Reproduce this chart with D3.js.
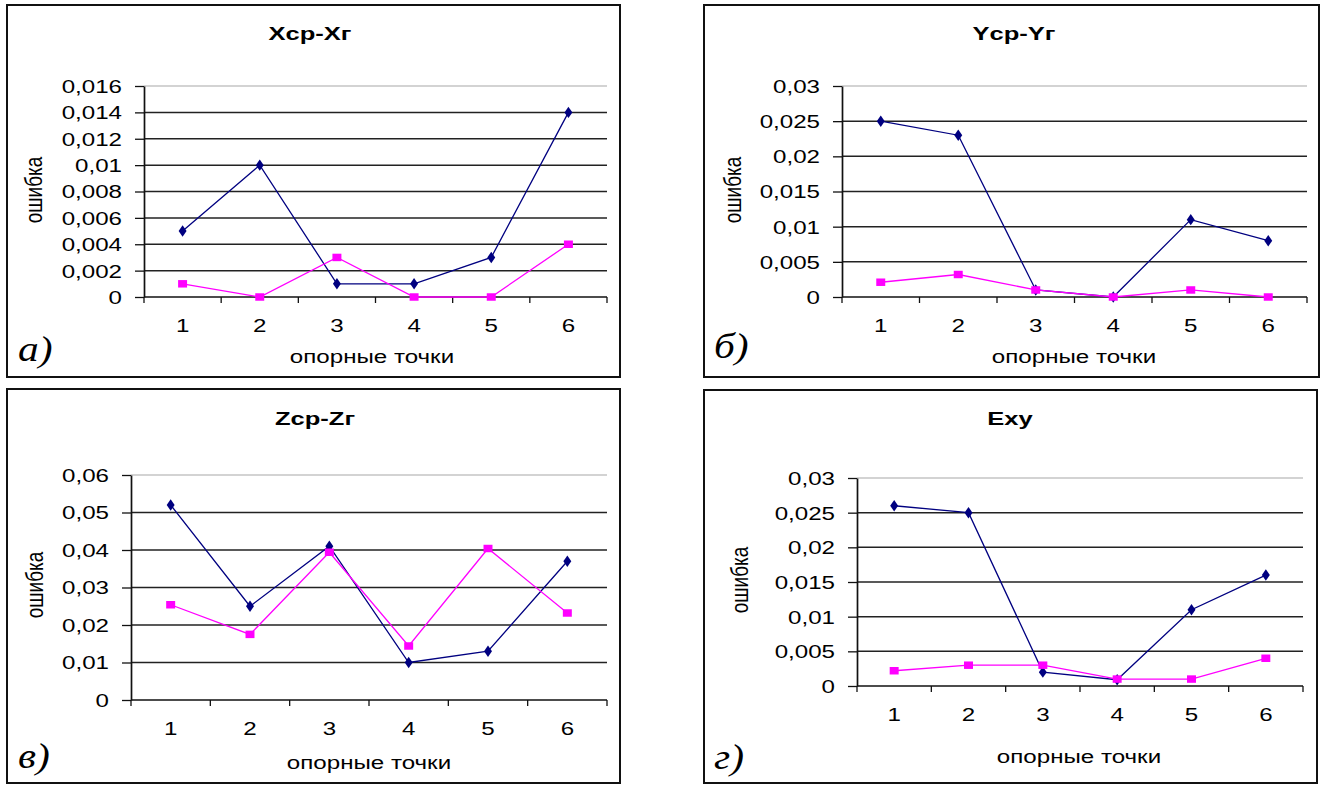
<!DOCTYPE html>
<html>
<head>
<meta charset="utf-8">
<script src="https://cdn.jsdelivr.net/npm/d3@7"></script>
<style>
  body { margin: 0; background: #fff; }
  svg text { font-family: "Liberation Sans", Arial, sans-serif; fill: #000; }
</style>
</head>
<body>
<svg id="chart" width="1322" height="785"></svg>
<script>
// Reference points (categories) shared by all four panels
const points = ["1", "2", "3", "4", "5", "6"];

// Panel captions
const titles = ["Xср-Xг", "Yср-Yг", "Zср-Zг", "Exy"];
const letters = ["а)", "б)", "в)", "г)"];
const xAxisTitle = "опорные точки";
const yAxisTitle = "ошибка";

// Errors per reference point: navy series and magenta series
const xNavy    = [0.005, 0.010, 0.001, 0.001, 0.003, 0.014];
const xMagenta = [0.001, 0.000, 0.003, 0.000, 0.000, 0.004];

const yNavy    = [0.025, 0.023, 0.001, 0.000, 0.011, 0.008];
const yMagenta = [0.0021, 0.0032, 0.001, 0.000, 0.001, 0.000];

const zNavy    = [0.052, 0.025, 0.041, 0.010, 0.013, 0.037];
const zMagenta = [0.0254, 0.0175, 0.0394, 0.0144, 0.0404, 0.0232];

const eNavy    = [0.026, 0.025, 0.002, 0.0009, 0.011, 0.016];
const eMagenta = [0.0022, 0.003, 0.003, 0.001, 0.001, 0.004];

// Value-axis ticks of each panel
const xTicks = [0, 0.002, 0.004, 0.006, 0.008, 0.010, 0.012, 0.014, 0.016];
const yTicks = [0, 0.005, 0.010, 0.015, 0.020, 0.025, 0.030];
const zTicks = [0, 0.01, 0.02, 0.03, 0.04, 0.05, 0.06];
const eTicks = [0, 0.005, 0.010, 0.015, 0.020, 0.025, 0.030];

const navyColor = "#000080";
const magentaColor = "#ff00ff";
const SX = 1.27;      // horizontal widening of the lettering
const TITLE_SX = 1.38;

const svg = d3.select("#chart");

// Placement of each panel on the page
const panels = [
  { series: [xNavy, xMagenta], ticks: xTicks,
    frame: { x0: 7, y0: 5, x1: 620, y1: 377 },
    plot: { left: 144, right: 607, top: 86, bottom: 297 },
    title: [310, 33], ylab: [35, 190], letter: [18, 350], xtitle: [372, 357] },
  { series: [yNavy, yMagenta], ticks: yTicks,
    frame: { x0: 704, y0: 5, x1: 1319, y1: 377 },
    plot: { left: 842, right: 1307, top: 86, bottom: 297 },
    title: [1014, 33], ylab: [734, 190], letter: [714, 347], xtitle: [1074, 357] },
  { series: [zNavy, zMagenta], ticks: zTicks,
    frame: { x0: 7, y0: 389, x1: 620, y1: 783 },
    plot: { left: 131, right: 607, top: 475, bottom: 700 },
    title: [315, 418], ylab: [36, 585], letter: [18, 757], xtitle: [369, 763] },
  { series: [eNavy, eMagenta], ticks: eTicks,
    frame: { x0: 704, y0: 390, x1: 1317, y1: 783 },
    plot: { left: 857, right: 1303, top: 478, bottom: 686 },
    title: [1010, 418], ylab: [741, 580], letter: [714, 758], xtitle: [1079, 757] }
];

const fmt = v => d3.format(".3~f")(v).replace(".", ",");

panels.forEach((p, i) => {
  const g = svg.append("g");
  const f = p.frame, pl = p.plot;

  // panel frame
  g.append("rect")
    .attr("x", f.x0).attr("y", f.y0)
    .attr("width", f.x1 - f.x0).attr("height", f.y1 - f.y0)
    .attr("fill", "none").attr("stroke", "#111").attr("stroke-width", 2);

  const x = d3.scaleBand().domain(points).range([pl.left, pl.right]).padding(0);
  const edge = d3.scaleLinear().domain([0, points.length]).range([pl.left, pl.right]);
  const y = d3.scaleLinear().domain([0, d3.max(p.ticks)]).range([pl.bottom, pl.top]);

  // horizontal gridlines
  g.append("g").selectAll("line").data(p.ticks.slice(1)).join("line")
    .attr("x1", pl.left).attr("x2", pl.right)
    .attr("y1", d => y(d)).attr("y2", d => y(d))
    .attr("stroke", (d, k) => k === p.ticks.length - 2 ? "#c4c4c4" : "#222")
    .attr("stroke-width", 1.5);

  // value axis
  const ya = g.append("g").attr("transform", `translate(${pl.left},0)`)
    .call(d3.axisLeft(y).tickValues(p.ticks).tickFormat(fmt).tickSize(9).tickSizeOuter(0));
  ya.select(".domain").attr("stroke", "#111").attr("stroke-width", 1.7);
  ya.selectAll(".tick line").attr("stroke", "#111").attr("stroke-width", 1.3);
  ya.selectAll(".tick text")
    .attr("font-size", 19)
    .attr("x", -22 / SX)
    .attr("dy", "0.34em")
    .attr("transform", `scale(${SX},1)`);

  // category axis: baseline, tick marks at band edges, labels at band centres
  g.append("line")
    .attr("x1", pl.left).attr("x2", pl.right)
    .attr("y1", pl.bottom).attr("y2", pl.bottom)
    .attr("stroke", "#111").attr("stroke-width", 1.7);
  g.append("g").selectAll("line").data(d3.range(points.length + 1)).join("line")
    .attr("x1", d => edge(d)).attr("x2", d => edge(d))
    .attr("y1", pl.bottom).attr("y2", pl.bottom + 6)
    .attr("stroke", "#111").attr("stroke-width", 1.3);
  const xa = g.append("g").attr("transform", `translate(0,${pl.bottom})`)
    .call(d3.axisBottom(x).tickSize(0).tickPadding(0));
  xa.select(".domain").remove();
  xa.selectAll(".tick text")
    .attr("font-size", 19)
    .attr("y", 28)
    .attr("dy", "0.35em")
    .attr("transform", `scale(${SX},1)`);

  // series lines and markers
  const line = d3.line().x((d, k) => x(points[k]) + x.bandwidth() / 2).y(d => y(d));
  const colors = [navyColor, magentaColor];
  const shapes = [d3.symbolDiamond, d3.symbolSquare];
  const sizes = [38, 56];
  p.series.forEach((vals, s) => {
    g.append("path").datum(vals)
      .attr("d", line)
      .attr("fill", "none")
      .attr("stroke", colors[s])
      .attr("stroke-width", 1.3);
    g.append("g").selectAll("path").data(vals).join("path")
      .attr("d", d3.symbol(shapes[s], sizes[s]))
      .attr("transform", (d, k) =>
        `translate(${x(points[k]) + x.bandwidth() / 2},${y(d)}) scale(1.2,1)`)
      .attr("fill", colors[s]);
  });

  // captions
  g.append("text")
    .attr("transform", `translate(${p.title[0]},${p.title[1]}) scale(${TITLE_SX},1)`)
    .attr("text-anchor", "middle").attr("dy", "0.36em")
    .attr("font-size", 18.5).attr("font-weight", "bold")
    .text(titles[i]);

  g.append("text")
    .attr("transform", `translate(${p.xtitle[0]},${p.xtitle[1]}) scale(${SX},1)`)
    .attr("text-anchor", "middle").attr("dy", "0.3em")
    .attr("font-size", 19)
    .text(xAxisTitle);

  g.append("text")
    .attr("transform", `translate(${p.ylab[0]},${p.ylab[1]}) rotate(-90) scale(1,${SX})`)
    .attr("text-anchor", "middle").attr("dy", "0.3em")
    .attr("font-size", 19)
    .text(yAxisTitle);

  g.append("text")
    .attr("transform", `translate(${p.letter[0]},${p.letter[1]}) scale(1.15,1)`)
    .attr("dy", "0.3em")
    .style("font-family", '"Liberation Serif", "Times New Roman", serif')
    .style("font-style", "italic")
    .attr("font-size", 36)
    .text(letters[i]);
});
</script>
</body>
</html>
